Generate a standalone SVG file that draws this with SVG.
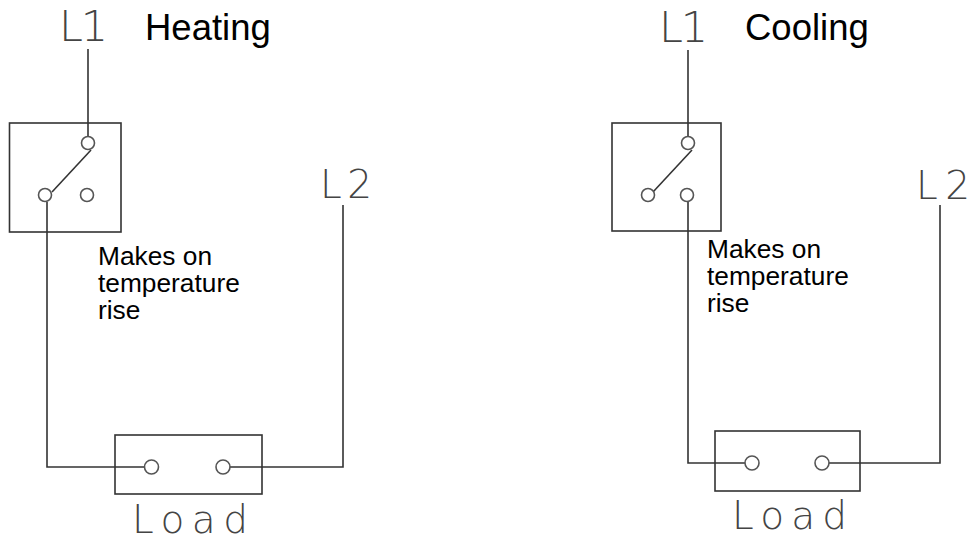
<svg xmlns="http://www.w3.org/2000/svg" width="977" height="540" viewBox="0 0 977 540">
<style>
.w{fill:none;stroke:#333;stroke-width:1.6}
.b{fill:none;stroke:#333;stroke-width:1.6}
.c{fill:#fff;stroke:#555;stroke-width:1.6}
.cad{font-family:"DejaVu Sans ExtraLight","DejaVu Sans",sans-serif;font-weight:200;fill:#444}
.t{font-family:"Liberation Sans",Arial,sans-serif;fill:#000}
</style>
<rect width="977" height="540" fill="#fff"/>
<g id="connectors">
<path class="w" d="M88,49 V136"/>
<path class="w" d="M47,202 V467 H144"/>
<path class="w" d="M230,467 H343 V205"/>
<path class="w" d="M688,50 V136"/>
<path class="w" d="M688,202 V463 H745"/>
<path class="w" d="M829,463 H940 V205"/>
</g>
<g id="heating">
<text class="t" x="145" y="40" font-size="36.5">Heating</text>
<text class="cad" x="59" y="41" font-size="43" textLength="49" lengthAdjust="spacing">L1</text>
</g>
<g id="heating-switch">
<rect class="b" x="9.5" y="123" width="111.5" height="109"/>
<line class="w" x1="52" y1="192" x2="91" y2="150"/>
<circle class="c" cx="88" cy="143" r="6.5"/>
<circle class="c" cx="45" cy="195" r="6.5"/>
<circle class="c" cx="87" cy="195" r="6.5"/>
</g>
<g id="heating-note">
<text class="t" font-size="26.3"><tspan x="98" y="265">Makes on</tspan><tspan x="98" y="292">temperature</tspan><tspan x="98" y="319">rise</tspan></text>
</g>
<g id="heating-l2">
<text class="cad" x="320" y="198" font-size="39" textLength="52" lengthAdjust="spacing">L2</text>
</g>
<g id="heating-load">
<rect class="b" x="115" y="435" width="147" height="59"/>
<circle class="c" cx="151.5" cy="467" r="7"/>
<circle class="c" cx="223" cy="467" r="7"/>
<text class="cad" x="132" y="533" font-size="39" textLength="116" lengthAdjust="spacing">Load</text>
</g>
<g id="cooling">
<text class="t" x="745" y="40" font-size="36.5">Cooling</text>
<text class="cad" x="659" y="42" font-size="43" textLength="49" lengthAdjust="spacing">L1</text>
</g>
<g id="cooling-switch">
<rect class="b" x="612" y="123" width="109" height="108"/>
<line class="w" x1="653" y1="192" x2="692" y2="150"/>
<circle class="c" cx="688" cy="143" r="6.5"/>
<circle class="c" cx="648" cy="195" r="6.5"/>
<circle class="c" cx="687" cy="195" r="6.5"/>
</g>
<g id="cooling-note">
<text class="t" font-size="26.3"><tspan x="707" y="258">Makes on</tspan><tspan x="707" y="285">temperature</tspan><tspan x="707" y="312">rise</tspan></text>
</g>
<g id="cooling-l2">
<text class="cad" x="916" y="199" font-size="39" textLength="54" lengthAdjust="spacing">L2</text>
</g>
<g id="cooling-load">
<rect class="b" x="715" y="431" width="145" height="60"/>
<circle class="c" cx="752" cy="463" r="7"/>
<circle class="c" cx="822" cy="463" r="7"/>
<text class="cad" x="732" y="529" font-size="39" textLength="115" lengthAdjust="spacing">Load</text>
</g>
</svg>
